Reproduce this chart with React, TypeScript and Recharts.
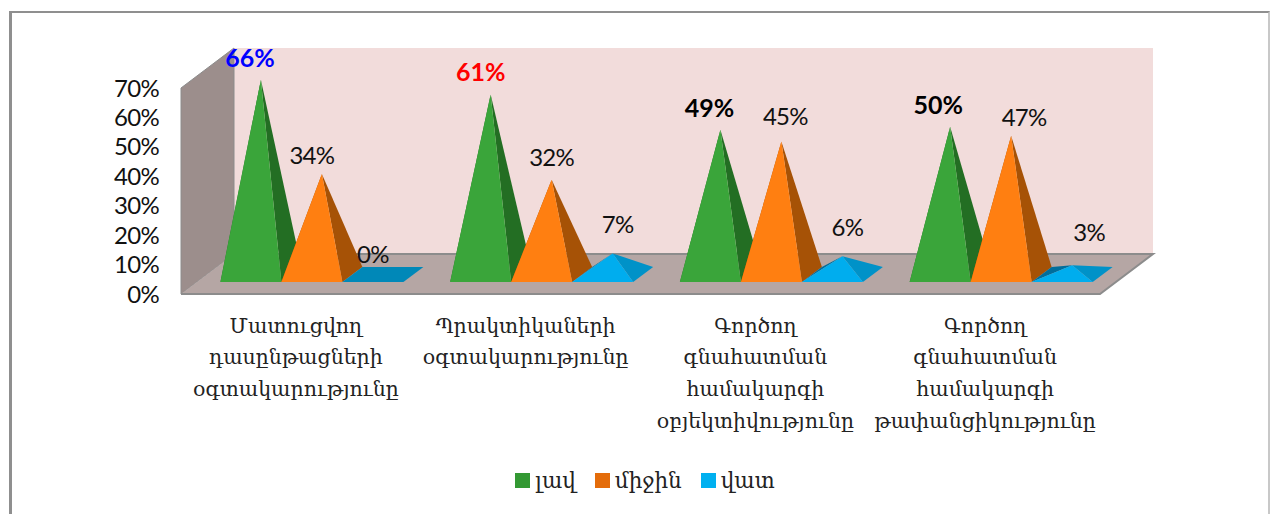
import { BarChart, Bar, XAxis, YAxis, LabelList, Legend, usePlotArea } from "recharts";

const categories = [
  "Մատուցվող|դասընթացների|օգտակարությունը",
  "Պրակտիկաների|օգտակարությունը",
  "Գործող|գնահատման|համակարգի|օբյեկտիվությունը",
  "Գործող|գնահատման|համակարգի|թափանցիկությունը",
];
const good = [66, 61, 49, 50];
const medium = [34, 32, 45, 47];
const bad = [0, 7, 6, 3];
const yTicks = [0, 10, 20, 30, 40, 50, 60, 70];
const goodLabelColors = ["#0000ff", "#ff0000", "#000000", "#000000"];

// labels were dragged by hand in the original, [dx, dy] per category
const goodNudge = [[-1, 0], [0, 0], [-1, 0], [-2, 0]];
const mediumNudge = [[0, 3], [10, -1], [14, -4], [23, 3]];
const badNudge = [[0, 2], [15, -7], [15, -7], [27, -11]];

const data = categories.map((category, i) => ({
  category,
  good: good[i],
  medium: medium[i],
  bad: bad[i],
}));

const SANS = "Lato, 'Open Sans', sans-serif";
const SERIF = "'DejaVu Serif', serif";

// the fake 3d room: how far the back wall is pushed right and up
const DEPTH_X = 53;
const DEPTH_Y = 40;
// pyramids sit a bit inside the floor
const BAR_SHIFT = 16.4;
const BAR_WIDTH = 61;
const BASE_FRONT = 12;
const BASE_BACK = 27;
const BASE_SKEW = 20;
const APEX_LIFT = 20;

const faces = {
  good: { front: "#3aa53a", right: "#236e23", left: "#236e23" },
  medium: { front: "#ff7f11", right: "#a65206", left: "#a65206" },
  bad: { front: "#00adee", right: "#0092c8", left: "#006e9c" },
};

function Room() {
  const plot = usePlotArea();
  if (!plot) return null;
  const l = plot.x;
  const r = plot.x + plot.width;
  const b = plot.y + plot.height;
  const t = plot.y;
  const edge = "#8c8c8c";
  return (
    <g>
      <polygon
        points={`${l + DEPTH_X},${t - DEPTH_Y} ${r + DEPTH_X},${t - DEPTH_Y} ${r + DEPTH_X},${b - DEPTH_Y} ${l + DEPTH_X},${b - DEPTH_Y}`}
        fill="#f2dcdb"
      />
      <polygon
        points={`${l},${t} ${l + DEPTH_X},${t - DEPTH_Y} ${l + DEPTH_X},${b - DEPTH_Y} ${l},${b}`}
        fill="#9c8e8c"
        stroke={edge}
        strokeWidth={1}
      />
      <polygon
        points={`${l},${b} ${l + DEPTH_X},${b - DEPTH_Y} ${r + DEPTH_X},${b - DEPTH_Y} ${r},${b}`}
        fill="#b5a6a4"
      />
      <polyline
        points={`${l},${b} ${r},${b} ${r + DEPTH_X},${b - DEPTH_Y} ${l + DEPTH_X},${b - DEPTH_Y}`}
        fill="none"
        stroke={edge}
        strokeWidth={2}
      />
    </g>
  );
}

function Pyramid(props: any) {
  const { x, y, width, height, palette, background } = props;
  const zero = background ? background.y + background.height : y + height;
  const x0 = x + BAR_SHIFT;
  const x1 = x0 + width;
  const front = zero - BASE_FRONT;
  const back = zero - BASE_BACK;
  const apexX = x0 + width / 2 + BASE_SKEW / 2;
  const apexY = y - APEX_LIFT;
  const base = `${x0},${front} ${x1},${front} ${x1 + BASE_SKEW},${back} ${x0 + BASE_SKEW},${back}`;
  if (!height) return <polygon points={base} fill="#0088b8" />;
  return (
    <g>
      <polygon points={`${x0},${front} ${x0 + BASE_SKEW},${back} ${apexX},${apexY}`} fill={palette.left} />
      <polygon points={`${x1},${front} ${x1 + BASE_SKEW},${back} ${apexX},${apexY}`} fill={palette.right} />
      <polygon points={`${x0},${front} ${x1},${front} ${apexX},${apexY}`} fill={palette.front} />
    </g>
  );
}

function makeLabel(nudge: number[][], colors?: string[]) {
  return function PyramidLabel(props: any) {
    const { x, y, width, value, index } = props;
    return (
      <text
        x={x + BAR_SHIFT + width / 2 + nudge[index][0]}
        y={y - APEX_LIFT - 13 + nudge[index][1]}
        textAnchor="middle"
        fontFamily={SANS}
        fontSize={colors ? 25 : 24}
        letterSpacing={colors ? 0 : -0.7}
        fontWeight={colors ? 700 : 400}
        fill={colors ? colors[index] : "#111"}
      >
        {value}%
      </text>
    );
  };
}

function CategoryTick(props: any) {
  const { x, y, payload } = props;
  const lines = String(payload.value).split("|");
  return (
    <text x={x} y={y} textAnchor="middle" fontFamily={SERIF} fontSize={20.5} fill="#222">
      {lines.map((line, i) => (
        <tspan key={i} x={x} dy={i === 0 ? 30.5 : 31.7}>
          {line}
        </tspan>
      ))}
    </text>
  );
}

function LegendRow({ payload }: any) {
  return (
    <div style={{ display: "flex", justifyContent: "center", gap: 19, fontFamily: SERIF, fontSize: 21.5, color: "#222" }}>
      {(payload || []).map((item: any) => (
        <span key={item.value} style={{ display: "flex", alignItems: "center", gap: 5 }}>
          <span style={{ width: 15, height: 15, background: item.color }} />
          {item.value}
        </span>
      ))}
    </div>
  );
}

export default function App() {
  return (
    <div style={{ position: "absolute", left: 0, top: 0, width: 1270, height: 514, overflow: "hidden", background: "#fff" }}>
      <div
        style={{
          position: "absolute",
          left: 9,
          top: 11,
          right: 0,
          height: 520,
          borderTop: "2px solid #8f8f8f",
          borderLeft: "3px solid #8f8f8f",
          borderRight: "2px solid #c8c8c8",
        }}
      />
      <BarChart
        width={1270}
        height={514}
        data={data}
        barSize={BAR_WIDTH}
        barGap={0}
        margin={{ top: 88, right: 170, bottom: 15, left: 121 }}
        style={{ position: "absolute", left: 0, top: 0 }}
      >
        <Room />
        <XAxis dataKey="category" axisLine={false} tickLine={false} height={180} interval={0} tick={<CategoryTick />} />
        <YAxis
          width={60}
          domain={[0, 70]}
          ticks={yTicks}
          interval={0}
          tickFormatter={(v: number) => `${v}%`}
          axisLine={false}
          tickLine={false}
          tickMargin={16}
          tick={{ fontFamily: SANS, fontSize: 24, fill: "#111", letterSpacing: -0.7 }}
        />
        <Legend
          content={<LegendRow />}
          wrapperStyle={{ position: "absolute", left: 0, top: 468, width: 1290 }}
        />
        <Bar dataKey="good" name="լավ" fill="#339933" isAnimationActive={false} shape={(p: any) => <Pyramid {...p} palette={faces.good} />}>
          <LabelList dataKey="good" content={makeLabel(goodNudge, goodLabelColors)} />
        </Bar>
        <Bar dataKey="medium" name="միջին" fill="#e46c0a" isAnimationActive={false} shape={(p: any) => <Pyramid {...p} palette={faces.medium} />}>
          <LabelList dataKey="medium" content={makeLabel(mediumNudge)} />
        </Bar>
        <Bar dataKey="bad" name="վատ" fill="#00b0f0" isAnimationActive={false} shape={(p: any) => <Pyramid {...p} palette={faces.bad} />}>
          <LabelList dataKey="bad" content={makeLabel(badNudge)} />
        </Bar>
      </BarChart>
    </div>
  );
}
